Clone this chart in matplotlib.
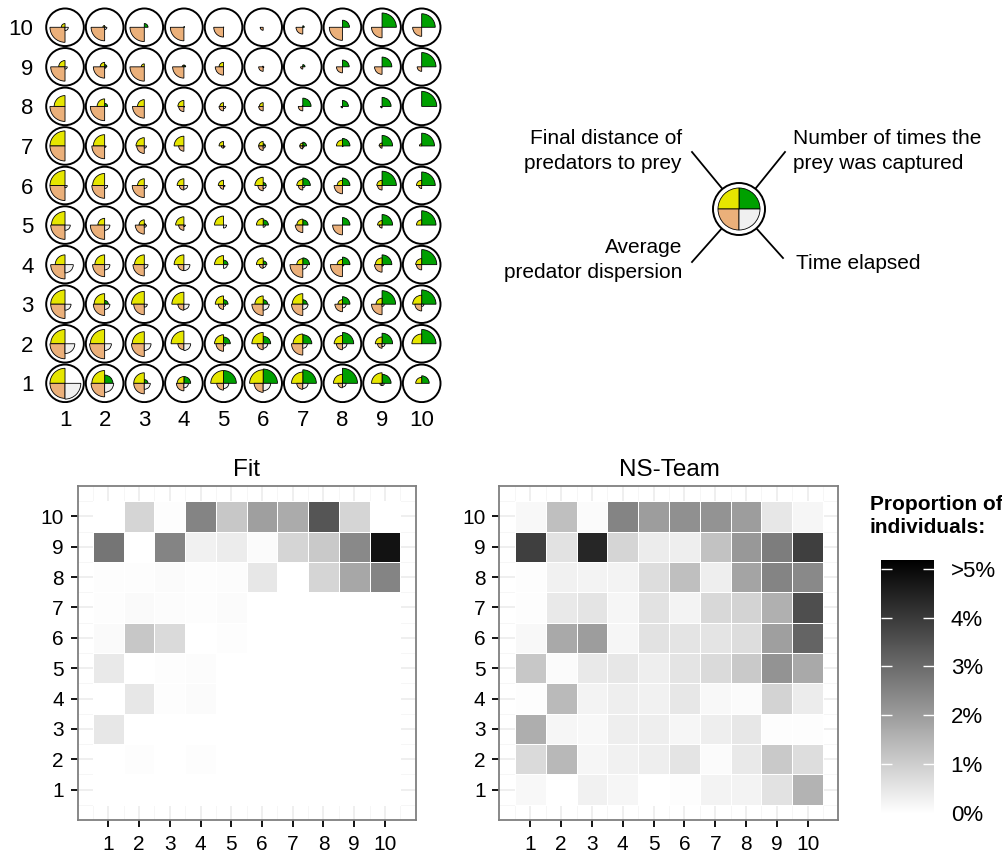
import numpy as np
import matplotlib
matplotlib.use('Agg')
import matplotlib.pyplot as plt
from matplotlib.patches import Wedge, Circle
from matplotlib.colors import LinearSegmentedColormap

plt.rcParams['font.family'] = ['Liberation Sans', 'DejaVu Sans']

W, H = 1003, 855

# glyph radii (relative, 1 = full quadrant), rows from y=10 down to y=1, columns x=1..10
distance = [  # yellow, top-left
    [0.25, 0.12, 0, 0, 0, 0, 0, 0, 0, 0],
    [0.42, 0.3, 0.2, 0.12, 0.3, 0.05, 0.05, 0, 0, 0],
    [0.72, 0.5, 0.45, 0.4, 0.25, 0.25, 0.05, 0, 0, 0],
    [1.0, 0.75, 0.55, 0.65, 0.3, 0.3, 0.2, 0.4, 0.2, 0.15],
    [1.0, 0.8, 0.45, 0.45, 0.35, 0.55, 0.4, 0.35, 0.35, 0.35],
    [0.9, 0.45, 0.35, 0.55, 0.6, 0.45, 0.4, 0, 0.3, 0.35],
    [0.65, 0.65, 0.65, 0.65, 0.6, 0.45, 0.4, 0.35, 0.45, 0.4],
    [0.95, 0.7, 0.85, 0.8, 0.55, 0.55, 0.7, 0.3, 0.4, 0.6],
    [0.95, 0.95, 0.8, 0.85, 0.6, 0.75, 0.65, 0.55, 0.45, 0.65],
    [1.0, 0.85, 0.7, 0.45, 0.85, 0.9, 0.75, 0.6, 0.7, 0.4],
]
captures = [  # green, top-right
    [0, 0.05, 0.25, 0.05, 0.02, 0, 0.1, 0.47, 0.95, 0.9],
    [0, 0.15, 0, 0.12, 0, 0, 0.15, 0.45, 0.65, 0.95],
    [0, 0.2, 0, 0, 0, 0, 0.55, 0.4, 0.6, 1.0],
    [0, 0, 0, 0, 0, 0.15, 0.25, 0.5, 0.7, 0.85],
    [0, 0, 0, 0, 0, 0.2, 0.5, 0.5, 0.95, 0.9],
    [0, 0, 0.1, 0, 0, 0.35, 0.35, 0.5, 0.7, 0.95],
    [0, 0, 0.05, 0, 0.3, 0.25, 0.45, 0.5, 0.65, 1.0],
    [0, 0.25, 0, 0, 0.3, 0.3, 0.3, 0.5, 0.9, 0.95],
    [0, 0, 0, 0, 0.45, 0.5, 0.6, 0.75, 0.7, 0.95],
    [0, 0.55, 0.25, 0.45, 0.85, 0.95, 0.9, 1.0, 0.6, 0.5],
]
dispersion = [  # orange, bottom-left
    [1.0, 0.9, 0.95, 0.9, 0.65, 0.2, 0.45, 0.87, 0.7, 0.6],
    [0.95, 0.75, 0.95, 0.75, 0.55, 0.3, 0.15, 0.4, 0.5, 0.3],
    [1.0, 0.95, 0.78, 0.35, 0.3, 0.3, 0.3, 0.1, 0.1, 0],
    [1.0, 0.85, 0.5, 0.35, 0.15, 0.3, 0.2, 0, 0.15, 0],
    [1.0, 0.85, 0.8, 0.3, 0.25, 0.35, 0.3, 0.55, 0.3, 0.2],
    [0.95, 0.95, 0.6, 0.35, 0, 0, 0.5, 0.65, 0.2, 0],
    [0.95, 0.8, 0.75, 0.4, 0, 0.25, 0.85, 0.8, 0.5, 0.35],
    [0.95, 0.75, 0.7, 0.4, 0.35, 0.75, 0.75, 0.5, 0.7, 0.45],
    [1.0, 1.0, 0.85, 0.4, 0.5, 0.4, 0.75, 0.4, 0.3, 0],
    [1.0, 0.9, 0.7, 0.5, 0.45, 0.6, 0.4, 0.3, 0.15, 0],
]
time_elapsed = [  # light grey, bottom-right
    [0.22, 0.15, 0, 0, 0, 0, 0, 0, 0, 0],
    [0.15, 0.1, 0, 0, 0, 0.05, 0, 0, 0, 0],
    [0, 0, 0, 0.05, 0.15, 0, 0, 0, 0, 0],
    [0, 0.1, 0.15, 0, 0.1, 0.15, 0.1, 0.05, 0, 0],
    [0.15, 0.2, 0.2, 0.25, 0.1, 0.2, 0.15, 0, 0, 0],
    [0.35, 0.35, 0.15, 0.1, 0.2, 0.15, 0, 0, 0, 0],
    [0.55, 0.35, 0.25, 0.4, 0.25, 0.2, 0.3, 0.1, 0.1, 0],
    [0.4, 0.35, 0.2, 0.35, 0.15, 0.4, 0.35, 0.25, 0.15, 0.15],
    [0.65, 0.45, 0.45, 0.45, 0.15, 0.3, 0.3, 0.3, 0.2, 0],
    [1.05, 0.6, 0.4, 0.3, 0.35, 0.5, 0.35, 0.25, 0.15, 0],
]

# proportion of individuals (%), rows y=10..1, columns x=1..10
fit = [
    [0, 0.85, 0.05, 2.5, 1.15, 1.95, 1.7, 3.45, 0.85, 0],
    [2.8, 0, 2.5, 0.3, 0.4, 0.1, 0.85, 1.1, 2.4, 4.8],
    [0.05, 0.05, 0.1, 0.05, 0.08, 0.5, 0, 0.85, 1.8, 2.5],
    [0.05, 0.12, 0.08, 0.05, 0.1, 0, 0, 0, 0, 0],
    [0.12, 1.15, 0.75, 0, 0.05, 0, 0, 0.02, 0, 0],
    [0.45, 0, 0.05, 0.08, 0, 0, 0, 0.02, 0, 0],
    [0, 0.5, 0.05, 0.1, 0, 0, 0, 0, 0, 0],
    [0.5, 0, 0, 0, 0, 0, 0.02, 0, 0, 0],
    [0, 0.05, 0, 0.05, 0, 0, 0, 0, 0, 0],
    [0, 0, 0, 0, 0, 0, 0, 0, 0, 0],
]
ns_team = [
    [0.15, 1.3, 0.1, 2.5, 2.0, 2.25, 2.2, 2.0, 0.5, 0.2],
    [3.9, 0.6, 4.4, 0.85, 0.4, 0.35, 1.25, 2.1, 2.65, 3.9],
    [0.05, 0.3, 0.25, 0.25, 0.7, 1.3, 0.35, 1.85, 2.5, 2.4],
    [0.05, 0.45, 0.55, 0.2, 0.6, 0.25, 0.8, 0.9, 1.6, 3.6],
    [0.15, 1.75, 2.0, 0.2, 0.6, 0.55, 0.55, 0.7, 1.95, 3.15],
    [1.15, 0.1, 0.45, 0.5, 0.35, 0.55, 0.75, 1.1, 2.2, 1.75],
    [0.05, 1.4, 0.25, 0.35, 0.3, 0.5, 0.15, 0.1, 0.9, 0.4],
    [1.65, 0.2, 0.15, 0.35, 0.35, 0.2, 0.35, 0.5, 0.05, 0.05],
    [0.75, 1.45, 0.2, 0.3, 0.35, 0.55, 0.1, 0.45, 1.1, 0.7],
    [0.15, 0.0, 0.3, 0.2, 0.02, 0.05, 0.25, 0.25, 0.6, 1.55],
]

ticks = list(range(1, 11))
cbar_labels = ['0%', '1%', '2%', '3%', '4%', '>5%']
vmax = 5.18

c_yellow, c_green, c_orange, c_grey = '#e6e600', '#00a000', '#ebb07a', '#f0f0f0'
quadrants = [(captures, c_green, 0), (distance, c_yellow, 90),
             (dispersion, c_orange, 180), (time_elapsed, c_grey, 270)]


def px(l, t, r, b):
    return [l / W, 1 - b / H, (r - l) / W, (b - t) / H]


fig = plt.figure(figsize=(W / 100, H / 100), dpi=100)

# ---- glyph grid ----
ax = fig.add_axes(px(45.2, 7.5, 441.5, 403.1))
R_CIRC, R_FULL = 0.475, 0.38
for i in range(10):
    y = 10 - i
    for j in range(10):
        x = j + 1
        ax.add_patch(Circle((x, y), R_CIRC, fc='white', ec='black', lw=1.4, zorder=1))
        for vals, col, th in quadrants:
            r = vals[i][j]
            if r > 0:
                ax.add_patch(Wedge((x, y), r * R_FULL, th, th + 90, fc=col,
                                   ec='black', lw=0.6, zorder=2))
ax.set_xlim(0.5, 10.5)
ax.set_ylim(0.5, 10.5)
ax.set_xticks(ticks)
ax.set_yticks(ticks)
ax.tick_params(length=0, labelsize=16, pad=8.5)
ax.tick_params(axis='x', pad=5)
for s in ax.spines.values():
    s.set_visible(False)

# ---- legend glyph ----
lg = fig.add_axes([0, 0, 1, 1])
lg.set_xlim(0, W)
lg.set_ylim(H, 0)
lg.axis('off')
cx, cy = 739, 209
for sx, sy in [(692, 152), (785, 152), (692, 262), (783, 258)]:
    lg.plot([sx, cx], [sy, cy], color='black', lw=1.3, zorder=1)
lg.add_patch(Circle((cx, cy), 26, fc='white', ec='black', lw=1.4, zorder=2))
# screen y is flipped, so angles run clockwise here
for col, th in [(c_green, 270), (c_yellow, 180), (c_orange, 90), (c_grey, 0)]:
    lg.add_patch(Wedge((cx, cy), 21, th, th + 90, fc=col, ec='black', lw=0.6, zorder=3))
fs = 15
lg.text(682, 151, 'Final distance of\npredators to prey', ha='right', va='center',
        fontsize=fs, linespacing=1.4)
lg.text(793, 151, 'Number of times the\nprey was captured', ha='left', va='center',
        fontsize=fs, linespacing=1.4)
lg.text(682, 260, 'Average\npredator dispersion', ha='right', va='center',
        fontsize=fs, linespacing=1.4)
lg.text(796, 263, 'Time elapsed', ha='left', va='center', fontsize=fs)

# ---- heatmaps ----
cmap = LinearSegmentedColormap.from_list('wb', ['white', 'black'])
edges = np.arange(0.5, 11, 1)


def heat(rect, data, title):
    a = fig.add_axes(rect)
    z = np.array(data)[::-1]
    a.pcolormesh(edges, edges, z, cmap=cmap, vmin=0, vmax=vmax,
                 edgecolors='white', linewidth=0.6, zorder=2)
    a.set_xlim(0, 11)
    a.set_ylim(0, 11)
    a.set_xticks(ticks)
    a.set_yticks(ticks)
    a.set_xticks(edges, minor=True)
    a.set_yticks(edges, minor=True)
    a.grid(which='major', color='#ebebeb', lw=1.1, zorder=0)
    a.grid(which='minor', color='#f5f5f5', lw=0.6, zorder=0)
    a.set_axisbelow(True)
    a.tick_params(which='major', length=5, width=1.3, labelsize=15)
    a.tick_params(axis='y', pad=5)
    a.tick_params(axis='x', pad=6)
    a.tick_params(which='minor', length=0)
    for s in a.spines.values():
        s.set_color('#7f7f7f')
        s.set_linewidth(1.3)
        s.set_zorder(5)
    a.set_title(title, fontsize=17.5, pad=7)
    return a


heat(px(77.6, 486, 415.7, 820), fit, 'Fit')
heat(px(499.5, 486, 838.5, 820), ns_team, 'NS-Team')

# ---- colour bar ----
cb = fig.add_axes(px(881, 560, 934, 813))
grad = np.linspace(0, vmax, 256).reshape(-1, 1)
cb.imshow(grad, cmap=cmap, vmin=0, vmax=vmax, aspect='auto', origin='lower',
          extent=[0, 1, 0, vmax])
cb.set_xlim(0, 1)
cb.set_ylim(0, vmax)
tv = np.arange(0, 6)
cb.hlines(tv[1:], 0, 0.2, color='white', lw=1)
cb.hlines(tv[1:], 0.8, 1, color='white', lw=1)
cb.set_xticks([])
cb.set_yticks(tv)
cb.set_yticklabels(cbar_labels)
cb.yaxis.tick_right()
cb.tick_params(length=0, labelsize=16, pad=12)
for s in cb.spines.values():
    s.set_visible(False)
fig.text(870 / W, 1 - 533 / H, 'Proportion of\nindividuals:', ha='left', va='baseline',
         fontsize=15, fontweight='bold', linespacing=1.3)

fig.savefig('out.png', dpi=100)
